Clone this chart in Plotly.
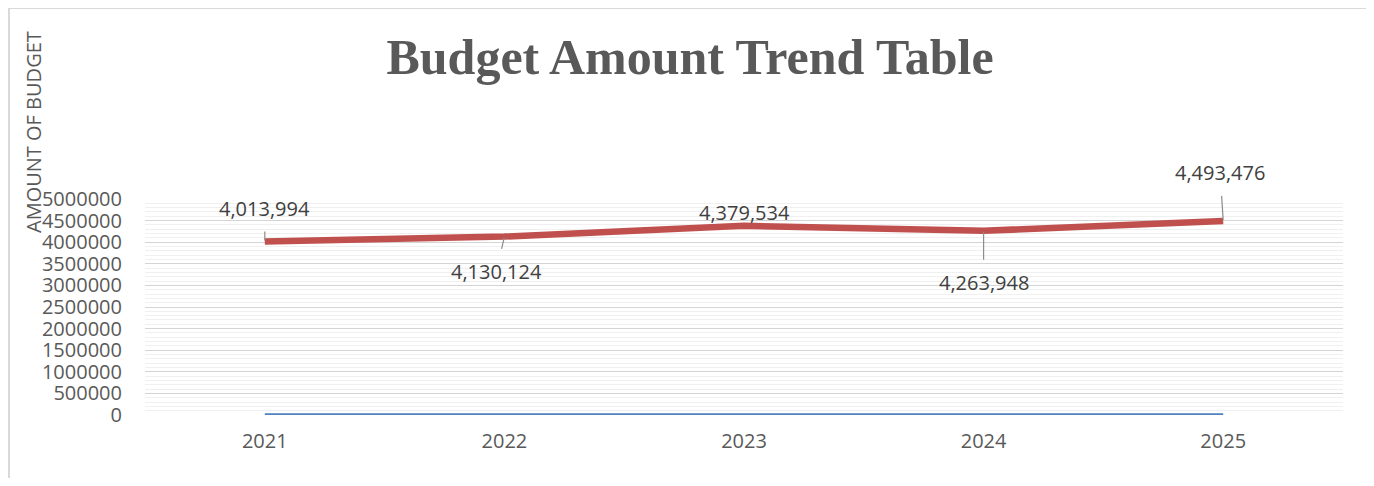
import plotly.graph_objects as go

years = ["2021", "2022", "2023", "2024", "2025"]
year_values = [2021, 2022, 2023, 2024, 2025]
budget = [4013994, 4130124, 4379534, 4263948, 4493476]
y_ticks = [0, 500000, 1000000, 1500000, 2000000, 2500000, 3000000, 3500000,
           4000000, 4500000, 5000000]

# label offsets (pixels) relative to the data point
label_ax = [0, -8, 0, 0, -3]
label_ay = [-33, 35, -13, 52, -48]

# page has a body margin: layout coordinates = page coordinates - OFF
OFF = 8
W, H = 1374 - 2 * OFF, 486 - 2 * OFF
TOP_PAGE, BOT_PAGE = 199, 415
L, R, T, B = 145 - OFF, W - (1343 - OFF), TOP_PAGE - OFF, H - (BOT_PAGE - OFF)
PW, PH = W - L - R, H - T - B


def px(x):
    return (x - OFF - L) / PW


def py(y):
    return (H - B - (y - OFF)) / PH


fig = go.Figure()
fig.add_trace(go.Scatter(x=years, y=year_values, mode="lines",
                         line=dict(color="#4F81BD", width=3.5), showlegend=False))
fig.add_trace(go.Scatter(x=years, y=budget, mode="lines",
                         line=dict(color="#C0504D", width=6.5), showlegend=False))

for i, v in enumerate(budget):
    fig.add_annotation(x=i, y=v, xref="x", yref="y",
                       text=f"{v:,}", showarrow=True, arrowhead=0,
                       arrowcolor="#8c8c8c", arrowwidth=1.2,
                       ax=label_ax[i], ay=label_ay[i],
                       standoff=1, startstandoff=8 if abs(label_ay[i]) > 20 else 0,
                       font=dict(family="Open Sans", size=20, color="#404040"))

fig.add_annotation(text="AMOUNT OF BUDGET", xref="paper", yref="paper",
                   x=px(33), y=py(132), textangle=-90,
                   showarrow=False, xanchor="center", yanchor="middle",
                   font=dict(family="Open Sans", size=20, color="#595959"))

fig.add_shape(type="line", xref="paper", yref="paper",
              x0=px(9), x1=px(9), y0=py(8), y1=py(490),
              line=dict(color="#d9d9d9", width=2))
fig.add_shape(type="line", xref="paper", yref="paper",
              x0=px(9), x1=px(1380), y0=py(8), y1=py(8),
              line=dict(color="#d9d9d9", width=2))

fig.update_layout(
    width=W, height=H,
    margin=dict(l=L, r=R, t=T, b=B, autoexpand=False),
    paper_bgcolor="white", plot_bgcolor="white",
    title=dict(text="<b>Budget Amount Trend Table</b>", x=(690 - OFF) / W,
               xanchor="center", xref="container",
               y=1 - (56 - OFF) / H, yanchor="middle", yref="container",
               font=dict(family="Liberation Serif", size=50, color="#595959")),
    xaxis=dict(type="category", range=[-0.5, 4.5], showgrid=False, zeroline=False,
               showline=False, ticks="", ticklabelstandoff=12,
               tickfont=dict(family="Open Sans", size=20, color="#595959")),
    yaxis=dict(range=[0, 5000000], tickvals=y_ticks,
               ticktext=[str(t) for t in y_ticks],
               showgrid=True, gridcolor="#d4d4d4", gridwidth=1,
               minor=dict(dtick=100000, showgrid=True, gridcolor="#f0f0f0", gridwidth=1),
               zeroline=False, showline=False, ticks="", ticklabelstandoff=22,
               tickfont=dict(family="Open Sans", size=20, color="#595959")),
)

fig.write_html("out.html")
